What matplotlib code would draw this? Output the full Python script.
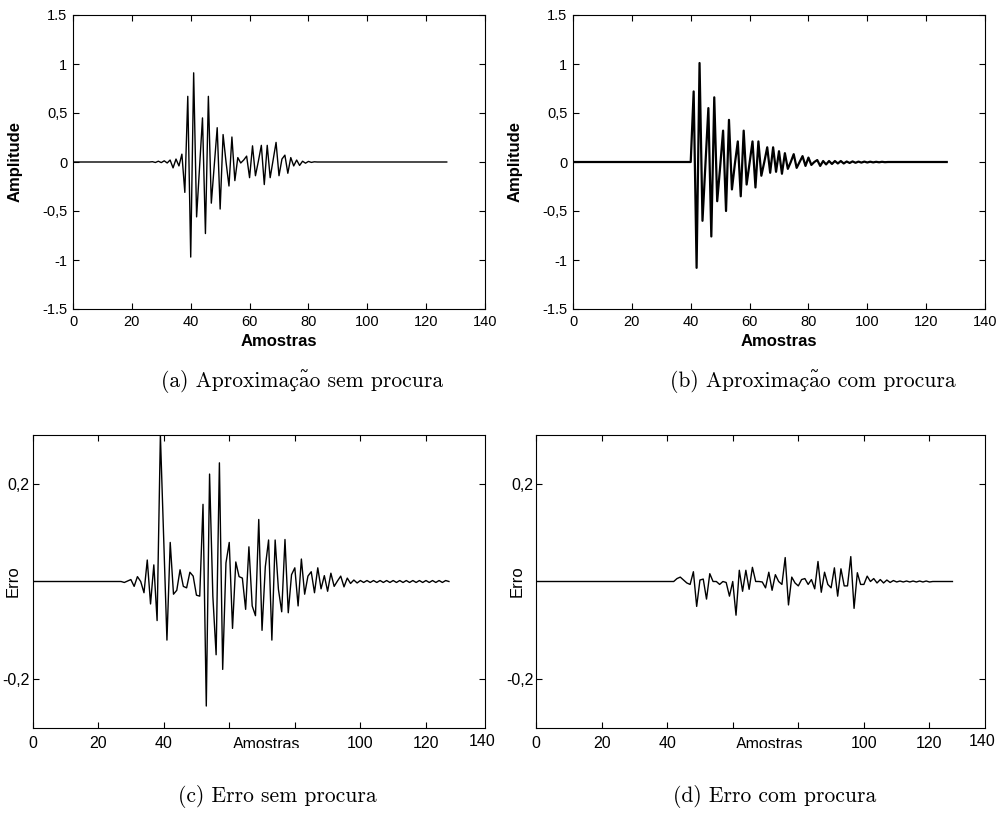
import matplotlib
matplotlib.use('Agg')
import matplotlib.pyplot as plt
import numpy as np
import unicodedata
from matplotlib.transforms import Bbox, TransformedBbox
from matplotlib.ticker import FixedLocator, FixedFormatter

plt.rcParams['axes.unicode_minus'] = False

# ---------------- data ----------------
n_samples = 128
samples = np.arange(n_samples)

# (a) approximation without search (values start at sample 27)
a_start = 27
a_vals = [0.003, -0.005, 0.008, -0.006, 0.012, -0.01, 0.02, -0.06, 0.03, -0.04,
          0.08, -0.31, 0.67, -0.97, 0.91, -0.56, -0.05, 0.45, -0.73, 0.67,
          -0.42, -0.03, 0.35, -0.48, 0.28, 0.0, -0.245, 0.255, -0.19, 0.045,
          -0.01, 0.02, 0.06, -0.16, 0.165, -0.14, 0.01, 0.17, -0.23, 0.17,
          -0.16, 0.02, 0.2, -0.14, 0.03, 0.07, -0.115, 0.045, -0.04, 0.02,
          -0.035, 0.008, -0.012, 0.006, -0.004, 0.002]

# (b) approximation with search (values start at sample 41)
b_start = 41
b_vals = [0.72, -1.08, 1.01, -0.60, -0.02, 0.55, -0.76, 0.66, -0.40, -0.05,
          0.32, -0.50, 0.43, -0.28, -0.02, 0.21, -0.35, 0.32, -0.23, -0.01,
          0.21, -0.26, 0.21, -0.14, 0.0, 0.15, -0.11, 0.15, -0.10, 0.11,
          -0.12, 0.09, -0.07, 0.0, 0.08, -0.06, 0.0, 0.06, -0.04, 0.045,
          -0.03, 0.0, 0.02, -0.04, 0.01, -0.025, 0.01, -0.02, 0.01, -0.015,
          0.01, -0.015, 0.005, -0.01, 0.006, -0.008, 0.004, -0.006, 0.004, -0.005,
          0.003, -0.004, 0.002, -0.003, 0.002, -0.002]

# (c) error without search (values start at sample 27)
c_start = 27
c_vals = [0.0, -0.002, 0.001, 0.004, -0.01, 0.01, 0.0, -0.023, 0.044, -0.046,
          0.034, -0.08, 0.30, 0.09, -0.12, 0.08, -0.026, -0.018, 0.024, -0.01,
          -0.013, 0.019, 0.011, -0.028, -0.03, 0.158, -0.255, 0.22, -0.03, -0.15,
          0.243, -0.18, 0.038, 0.08, -0.096, 0.04, 0.01, 0.007, -0.057, 0.071,
          -0.05, -0.07, 0.127, -0.10, 0.03, 0.085, -0.12, 0.085, -0.016, -0.062,
          0.086, -0.064, 0.014, 0.028, -0.05, 0.046, -0.026, 0.011, 0.02, -0.023,
          0.028, -0.015, 0.012, -0.02, 0.017, -0.01, 0.001, 0.011, -0.011, 0.007,
          -0.004, 0.003, -0.003, 0.002, -0.002, 0.002, -0.002, 0.002, -0.002, 0.002,
          -0.002, 0.002, -0.002, 0.002, -0.002, 0.002, -0.002, 0.002, -0.002, 0.002,
          -0.002, 0.002, -0.002, 0.002, -0.002, 0.002, -0.002, 0.002, -0.002, 0.002,
          0.0]

# (d) error with search (values start at sample 42)
d_start = 42
d_vals = [0.0, 0.006, 0.009, 0.003, -0.003, -0.006, 0.02, -0.051, 0.003, 0.005,
          -0.036, 0.016, 0.0, 0.0, -0.006, 0.0, -0.002, -0.03, 0.0, -0.069,
          0.023, -0.02, 0.023, -0.016, 0.029, 0.0, 0.0, -0.001, -0.013, 0.019,
          -0.018, 0.014, 0.0, -0.006, 0.049, -0.048, 0.009, -0.003, -0.009, 0.004,
          0.006, -0.006, 0.004, -0.015, 0.041, -0.022, 0.019, -0.006, -0.013, 0.028,
          -0.03, 0.026, -0.009, -0.009, 0.051, -0.055, 0.018, -0.006, -0.006, 0.011,
          0.0, 0.006, -0.003, 0.004, -0.003, 0.003, -0.002, 0.002, -0.001, 0.001,
          -0.001, 0.001, -0.001, 0.001, -0.001, 0.001, -0.001, 0.001, -0.001, 0.0]

x_ticks = [0, 20, 40, 60, 80, 100, 120, 140]
x_labels_top = ['0', '20', '40', '60', '80', '100', '120', '140']
x_ticks_err = [0, 20, 40, 60, 80, 100, 120]
x_labels_err = ['0', '20', '40', '', '', '100', '120']
amp_ticks = [-1.5, -1.0, -0.5, 0.0, 0.5, 1.0, 1.5]
amp_labels = ['-1.5', '-1', '-0,5', '0', '0,5', '1', '1.5']
err_ticks = [-0.2, 0.2]
err_labels = ['-0,2', '0,2']

captions = ['(a) Aproximação sem procura', '(b) Aproximação com procura',
            '(c) Erro sem procura', '(d) Erro com procura']


def series(start, vals):
    y = np.zeros(n_samples)
    y[start:start + len(vals)] = vals
    return y

# ---------------- figure ----------------
W, H = 1006, 816
fig = plt.figure(figsize=(W / 100, H / 100), dpi=100)
SANS = 'Liberation Sans'


def add_ax(x0, y0, x1, y1):
    return fig.add_axes([x0 / W, 1 - y1 / H, (x1 - x0) / W, (y1 - y0) / H])


def style(ax, fs):
    for s in ax.spines.values():
        s.set_linewidth(0.8)
        s.set_color('black')
    ax.tick_params(direction='in', length=4, width=0.8, top=True, right=True,
                   labelsize=fs, pad=4)
    for lab in ax.get_xticklabels() + ax.get_yticklabels():
        lab.set_family(SANS)


# (a) and (b)
for x0, start, vals, lw in [(73, a_start, a_vals, 1.0), (573, b_start, b_vals, 1.6)]:
    ax = add_ax(x0, 15, x0 + 412, 309)
    ax.plot(samples, series(start, vals), color='black', lw=lw)
    ax.set_xlim(0, 140)
    ax.set_ylim(-1.5, 1.5)
    ax.xaxis.set_major_locator(FixedLocator(x_ticks))
    ax.xaxis.set_major_formatter(FixedFormatter(x_labels_top))
    ax.yaxis.set_major_locator(FixedLocator(amp_ticks))
    ax.yaxis.set_major_formatter(FixedFormatter(amp_labels))
    style(ax, 10.5)
    ax.set_xlabel('Amostras', family=SANS, fontweight='bold', fontsize=12, labelpad=4)
    ax.set_ylabel('Amplitude', family=SANS, fontweight='bold', fontsize=12)
    ax.yaxis.set_label_coords((23 - 73) / 412, 0.5)

# (c) and (d)
err_x_max = 138
for x0, x1, start, vals, amx in [(32.5, 485, c_start, c_vals, 267),
                                 (536, 985, d_start, d_vals, 770)]:
    ax = add_ax(x0, 435, x1, 728)
    ax.plot(samples, series(start, vals), color='black', lw=1.0)
    ax.set_xlim(0, err_x_max * (x1 - x0) / 452.5)
    ax.set_ylim(-0.3, 0.3)
    ax.xaxis.set_major_locator(FixedLocator(x_ticks_err))
    ax.xaxis.set_major_formatter(FixedFormatter(x_labels_err))
    ax.yaxis.set_major_locator(FixedLocator(err_ticks))
    ax.yaxis.set_major_formatter(FixedFormatter(err_labels))
    style(ax, 11.5)
    ax.tick_params(axis='x', pad=6)
    ax.tick_params(axis='y', pad=2)
    ax.set_ylabel('Erro', family=SANS, fontsize=12)
    ax.yaxis.set_label_coords((x0 - 11 - x0 + (21 - 32.5) + 11) / (x1 - x0), 0.5)
    # last tick label sits at the right border
    fig.text((x1 - 3) / W, 1 - 734 / H, '140', ha='center', va='top',
             fontsize=11.5, family=SANS)
    t = fig.text(amx / W, 1 - 737 / H, 'Amostras', ha='center', va='top',
                 fontsize=11.5, family=SANS)
    t.set_clip_box(TransformedBbox(Bbox([[0, 1 - 747.5 / H], [1, 1]]), fig.transFigure))
    t.set_clip_on(True)

# captions (Computer Modern; accents composed with combining marks)
cap_pos = [(302, 381), (813, 381), (277, 797), (775, 797)]
for (cx, cy), txt in zip(cap_pos, captions):
    fig.text(cx / W, 1 - cy / H, unicodedata.normalize('NFD', txt), ha='center',
             va='center', fontsize=15.5, family=['cmr10', 'DejaVu Serif'])

fig.savefig('out.png', dpi=100)
